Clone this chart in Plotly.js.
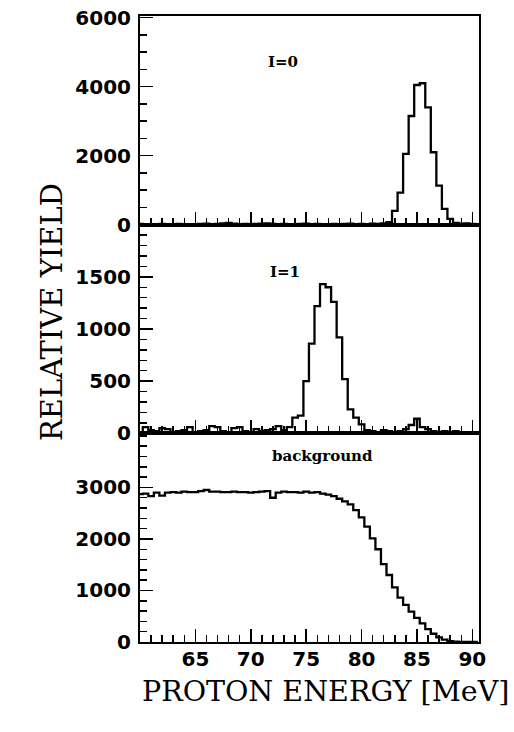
<!DOCTYPE html>
<html>
<head>
<meta charset="utf-8">
<script src="https://cdn.plot.ly/plotly-3.0.1.min.js"></script>
<style>html,body{margin:0;padding:0;background:#fff;}#chart{width:514px;height:732px;}</style>
</head>
<body>
<div id="chart"></div>
<script>
// Proton energy bin centres [MeV]
const energy = [60,60.5,61,61.5,62,62.5,63,63.5,64,64.5,65,65.5,66,66.5,67,67.5,68,68.5,69,69.5,
  70,70.5,71,71.5,72,72.5,73,73.5,74,74.5,75,75.5,76,76.5,77,77.5,78,78.5,79,79.5,
  80,80.5,81,81.5,82,82.5,83,83.5,84,84.5,85,85.5,86,86.5,87,87.5,88,88.5,89,89.5,90,90.5];

// I=0 yield (top panel)
const yieldI0 = [20,10,0,10,20,10,0,20,10,0,10,20,30,10,20,40,50,30,10,20,
  0,20,30,40,20,10,20,10,0,20,30,10,20,10,0,20,10,20,30,10,
  20,10,30,20,40,70,400,930,2050,3150,4050,4100,3400,2100,1130,460,170,50,30,40,20,10];

// I=1 yield (middle panel)
const yieldI1 = [0,60,30,20,50,40,10,20,30,60,10,20,30,70,60,20,10,50,60,20,
  10,40,20,30,40,70,30,60,150,170,500,860,1220,1430,1400,1260,920,520,230,150,
  85,30,20,10,30,20,10,20,40,80,140,60,40,20,10,20,10,20,10,0,10,0];

// background yield (bottom panel)
const yieldBg = [2870,2880,2830,2900,2840,2900,2910,2900,2920,2910,2910,2930,2950,2920,2920,2910,2910,2920,2910,2910,
  2900,2910,2920,2930,2800,2900,2920,2910,2910,2900,2920,2900,2910,2880,2860,2830,2780,2730,2670,2560,
  2420,2240,2010,1800,1510,1300,1060,860,720,590,470,360,250,160,90,45,15,5,0,0,0,0];

const xTickVals = [65,70,75,80,85,90];
const yTicksTop = [0,2000,4000,6000];
const yTicksMid = [0,500,1000,1500];
const yTicksBot = [0,1000,2000,3000];
const panelLabels = ['I=0','I=1','background'];

const lineStyle = {color:'#000', width:2.3, shape:'hvh'};
const traces = [
  {x:energy, y:yieldBg, xaxis:'x', yaxis:'y', type:'scatter', mode:'lines', line:lineStyle},
  {x:energy, y:yieldI1, xaxis:'x2', yaxis:'y2', type:'scatter', mode:'lines', line:lineStyle},
  {x:energy, y:yieldI0, xaxis:'x3', yaxis:'y3', type:'scatter', mode:'lines', line:lineStyle}
];

const tickFont = {family:'DejaVu Sans', size:20, color:'#000', weight:'bold'};
function xAx(anchor, showLabels){
  const ax = {
    anchor:anchor,
    range:[60, 90.6], showgrid:false, zeroline:false,
    showline:true, linecolor:'#000', linewidth:2, mirror:true,
    tickmode:'array', tickvals:xTickVals, ticks:'inside', ticklen:13, tickwidth:1.5, tickcolor:'#000',
    minor:{tickmode:'linear', tick0:60, dtick:1, ticks:'inside', ticklen:7, tickwidth:1.5, tickcolor:'#000', showgrid:false},
    showticklabels:showLabels, tickfont:tickFont, ticklabelstandoff:-2
  };
  if (anchor !== 'y') ax.matches = 'x';
  return ax;
}
function yAx(domain, range, vals, minorStep, anchor){
  return {
    domain:domain, anchor:anchor, range:range, showgrid:false, zeroline:false,
    showline:true, linecolor:'#000', linewidth:2, mirror:true,
    tickmode:'array', tickvals:vals, ticks:'inside', ticklen:13, tickwidth:1.5, tickcolor:'#000',
    minor:{tickmode:'linear', tick0:0, dtick:minorStep, ticks:'inside', ticklen:7, tickwidth:1.5, tickcolor:'#000', showgrid:false},
    tickfont:tickFont, ticklabelstandoff:3
  };
}

const annFont = {family:'DejaVu Serif', size:15, color:'#000', weight:'bold'};
const layout = {
  width:514, height:732,
  margin:{l:140, r:35, t:16, b:90},
  paper_bgcolor:'#fff', plot_bgcolor:'#fff',
  showlegend:false,
  xaxis:xAx('y', true), xaxis2:xAx('y2', false), xaxis3:xAx('y3', false),
  yaxis:yAx([0,1/3],[0,4050],yTicksBot,200,'x'),
  yaxis2:yAx([1/3,2/3],[0,2000],yTicksMid,100,'x2'),
  yaxis3:yAx([2/3,1],[0,6050],yTicksTop,500,'x3'),
  annotations:[
    {text:panelLabels[0], xref:'paper', yref:'paper', x:0.422, y:0.944, showarrow:false, font:annFont},
    {text:panelLabels[1], xref:'paper', yref:'paper', x:0.428, y:0.591, showarrow:false, font:annFont},
    {text:panelLabels[2], xref:'paper', yref:'paper', x:0.537, y:0.2796, showarrow:false, font:annFont},
    {text:'RELATIVE YIELD', xref:'paper', yref:'paper', x:-0.3156, y:0.527, textangle:-90, showarrow:false,
      font:{family:'DejaVu Serif', size:29, color:'#000'}},
    {text:'PROTON ENERGY [MeV]', xref:'paper', yref:'paper', x:0.546, y:-0.1086, showarrow:false,
      font:{family:'DejaVu Serif', size:28.5, color:'#000'}}
  ]
};
Plotly.newPlot('chart', traces, layout, {staticPlot:true, displayModeBar:false});
</script>
</body>
</html>
